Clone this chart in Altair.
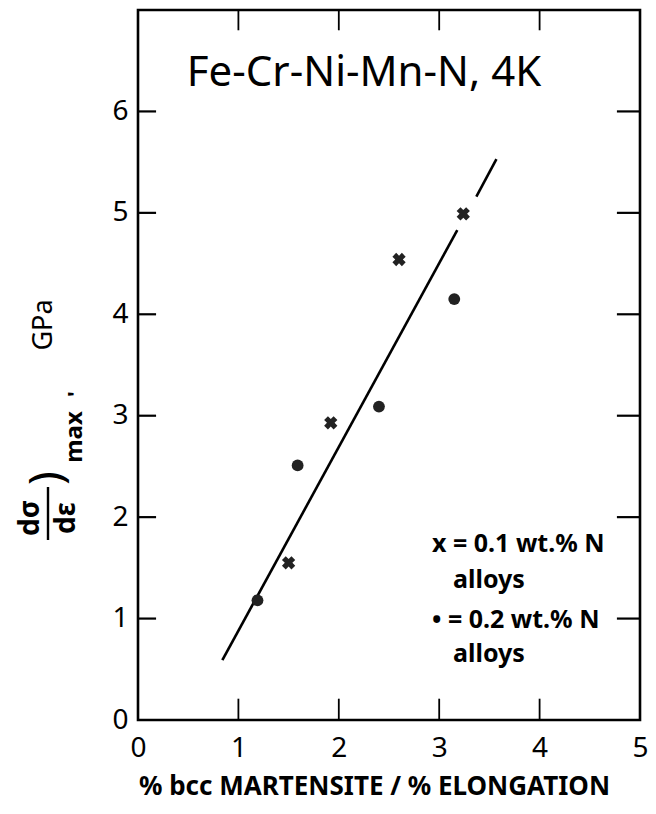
import altair as alt
import pandas as pd

FONT = "Noto Sans"

# Data
x_01N = [1.50, 1.92, 2.60, 3.24]   # x = 0.1 wt.% N alloys
y_01N = [1.55, 2.93, 4.54, 4.99]
x_02N = [1.19, 1.59, 2.40, 3.15]   # dot = 0.2 wt.% N alloys
y_02N = [1.18, 2.51, 3.09, 4.15]

# fitted line (drawn with a gap around the top cross)
line_x = [0.84, 3.18, 3.37, 3.57]
line_y = [0.59, 4.83, 5.16, 5.53]
line_seg = ["a", "a", "b", "b"]

x_ticks = [0, 1, 2, 3, 4, 5]
y_ticks = [0, 1, 2, 3, 4, 5, 6]
inner_x_ticks = [1, 2, 3, 4]
inner_y_ticks = [1, 2, 3, 4, 5, 6]

W, H = 502, 710

pts1 = pd.DataFrame({"x": x_01N, "y": y_01N})
pts2 = pd.DataFrame({"x": x_02N, "y": y_02N})
line_df = pd.DataFrame({"x": line_x, "y": line_y, "seg": line_seg})

xs = alt.Scale(domain=[0, 5], nice=False, zero=False)
ys = alt.Scale(domain=[0, 7], nice=False, zero=False)

X = alt.X("x:Q", scale=xs, axis=alt.Axis(
    values=x_ticks, format="d", title="% bcc MARTENSITE / % ELONGATION", grid=False,
    domain=False, ticks=False, labelFontSize=28, labelPadding=14, labelFlush=False,
    labelFont=FONT, labelColor="black", titleFont=FONT, titleFontSize=26,
    titleFontWeight="bold", titleColor="black", titleX=236, titleY=66,
    titleAlign="center", titleBaseline="middle"))
Y = alt.Y("y:Q", scale=ys, axis=alt.Axis(
    values=y_ticks, format="d", title="", grid=False, domain=False, ticks=False,
    labelFontSize=28, labelPadding=10, labelFont=FONT, labelColor="black"))

line = alt.Chart(line_df).mark_line(color="black", strokeWidth=2.6).encode(
    x=X, y=Y, detail="seg:N")

crosses = alt.Chart(pts1).mark_point(shape="cross", angle=45, filled=True, size=180,
                                     color="#222222", opacity=1).encode(x="x:Q", y="y:Q")
dots = alt.Chart(pts2).mark_circle(size=140, color="#222222", opacity=1).encode(
    x="x:Q", y="y:Q")

# inward tick marks on all four sides
left_t = alt.Chart(pd.DataFrame({"y": inner_y_ticks})).mark_rule(
    color="black", strokeWidth=2.2).encode(x=alt.datum(0), x2=alt.datum(0.18), y="y:Q")
right_t = alt.Chart(pd.DataFrame({"y": inner_y_ticks})).mark_rule(
    color="black", strokeWidth=2.2).encode(x=alt.datum(4.77), x2=alt.datum(5), y="y:Q")
top_t = alt.Chart(pd.DataFrame({"x": inner_x_ticks})).mark_rule(
    color="black", strokeWidth=1.8).encode(x="x:Q", y=alt.datum(7), y2=alt.datum(6.8))
bot_t = alt.Chart(pd.DataFrame({"x": inner_x_ticks})).mark_rule(
    color="black", strokeWidth=1.8).encode(x="x:Q", y=alt.datum(0), y2=alt.datum(0.21))


def label(txt, x, y, size, angle=0, weight="normal", align="center", baseline="middle"):
    return alt.Chart(alt.Data(values=[{}])).mark_text(
        text=txt, fontSize=size, angle=angle, fontWeight=weight, align=align,
        baseline=baseline, font=FONT, color="black").encode(
        x=alt.value(x), y=alt.value(y))


title = label("Fe-Cr-Ni-Mn-N, 4K", 226, 63, 42)
leg1 = label("x = 0.1 wt.% N", 294, 534, 25, weight="bold", align="left")
leg1b = label("alloys", 315, 570, 25, weight="bold", align="left")
leg2 = label("• = 0.2 wt.% N", 294, 610, 25, weight="bold", align="left")
leg2b = label("alloys", 315, 644, 25, weight="bold", align="left")

# y-axis title pieces (rotated)
y_num = label("dσ", -107, 508, 28, angle=270, weight="bold")
y_den = label("dε", -71, 508, 28, angle=270, weight="bold")
y_bar = alt.Chart(alt.Data(values=[{}])).mark_rule(color="black", strokeWidth=2.4).encode(
    x=alt.value(-90), y=alt.value(477), y2=alt.value(530))
y_par = label(")", -90, 468, 46, angle=270)
y_max = label("max", -63, 427, 24, angle=270, weight="bold")
y_com = label("'", -62, 384, 22, angle=270, weight="bold")
y_gpa = label("GPa", -94, 315, 27, angle=270)

chart = alt.layer(
    line, crosses, dots, left_t, right_t, top_t, bot_t,
    title, leg1, leg1b, leg2, leg2b,
    y_num, y_den, y_bar, y_par, y_max, y_com, y_gpa,
).properties(
    width=W, height=H,
    autosize=alt.AutoSizeParams(type="none"),
    padding={"left": 138, "top": 10, "right": 16, "bottom": 94},
    background="white",
).configure_view(stroke="black", strokeWidth=2.6)

chart.save("out.html", embed_options={"renderer": "svg", "actions": False})
